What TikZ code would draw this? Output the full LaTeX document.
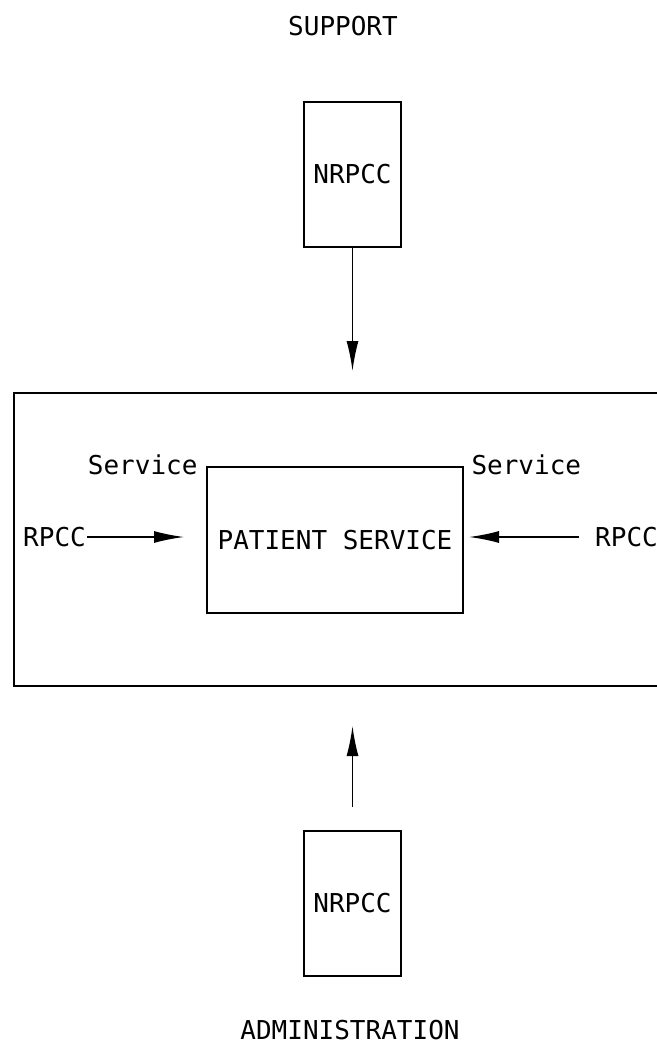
\documentclass[tikz,border=0pt]{standalone}
\usepackage{fontspec}
\setmonofont{DejaVu Sans Mono}
\usetikzlibrary{positioning, arrows.meta}
\tikzset{
x=1pt, y=-1pt, % one unit is one pixel of the page, y runs downwards
every node/.style={font=\fontsize{26}{28}\selectfont\ttfamily}, % plotter style lettering
unitbox/.style={draw, line width=2pt}, % sets the properties for each box
feed/.style={line width=1.6pt, -{Latex[length=30pt,width=12pt]}}, % the directed links
}

\begin{document}
\begin{tikzpicture}
    \useasboundingbox (0,0) rectangle (656,1056);

    \node (SUP) at (343,26) {SUPPORT};
    \node[unitbox, minimum width=97pt, minimum height=145pt] (topCC) at (352.5,174.5) {NRPCC};
    \node[unitbox, minimum width=660pt, minimum height=293pt] (UNIT) at (344,539.5) {};
    \node[unitbox, minimum width=256pt, minimum height=146pt] (PS) at (335,540) {PATIENT SERVICE};
    \node[anchor=east] (srvL) at (201,465) {Service};
    \node[anchor=west] (srvR) at (468,465) {Service};
    \node[anchor=west, inner sep=1pt] (rpccL) at (22,537) {RPCC};
    \node[anchor=west, inner sep=1pt] (rpccR) at (594,537) {RPCC};
    \node[unitbox, minimum width=97pt, minimum height=145pt] (botCC) at (352.5,903.5) {NRPCC};
    \node (ADM) at (350,1030) {ADMINISTRATION};

  \draw[feed, shorten >=21pt] (topCC.south) -- (UNIT.north -| topCC);
  \draw[feed, shorten >=22pt] (rpccL.east) -- (rpccL.east -| PS.west);
  \draw[feed, shorten <=15pt, shorten >=5pt] (rpccR.west) -- (rpccR.west -| PS.east);
  \draw[feed, shorten <=23pt, shorten >=39pt] (botCC.north) -- (UNIT.south -| botCC);
\end{tikzpicture}
\end{document}
